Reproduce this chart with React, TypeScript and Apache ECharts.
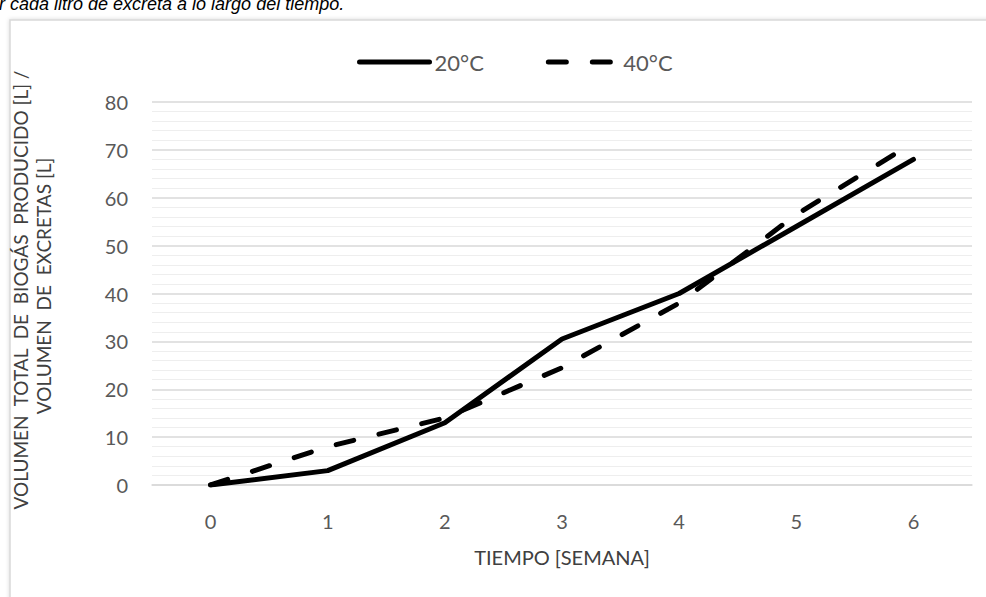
import React, { useEffect, useRef } from "react";
import * as echarts from "echarts";

const weeks = ["0", "1", "2", "3", "4", "5", "6"];
const serie20 = [0, 3, 13, 30.5, 40, 54, 68];
const serie40 = [0, 8, 14, 24.5, 38, 56.5, 71.5];
const seriesNames = ["20°C", "40°C"];
const yAxisTitle1 = "VOLUMEN  TOTAL  DE  BIOGÁS  PRODUCIDO [L] /";
const yAxisTitle2 = "VOLUMEN  DE  EXCRETAS [L]";
const xAxisTitle = "TIEMPO [SEMANA]";
const captionText = "r cada litro de excreta a lo largo del tiempo.";

const FONT = "Lato, 'Open Sans', sans-serif";
const GREY = "#595959";

export default function App() {
  const ref = useRef<HTMLDivElement>(null);
  useEffect(() => {
    if (!ref.current) return;
    const chart = echarts.init(ref.current, null, { renderer: "svg" });
    chart.setOption({
      animation: false,
      backgroundColor: "#ffffff",
      textStyle: { fontFamily: FONT },
      grid: { left: 152, right: 14, top: 102, bottom: 112 },
      legend: {
        left: 352,
        top: 46,
        itemWidth: 70,
        itemHeight: 26,
        itemGap: 62,
        itemStyle: { opacity: 0, color: "rgba(0,0,0,0)", borderWidth: 0 },
        lineStyle: { width: 5, cap: "round" },
        textStyle: { fontFamily: FONT, fontSize: 22, color: GREY },
        data: seriesNames,
      },
      xAxis: {
        type: "category",
        data: weeks,
        boundaryGap: true,
        axisLine: { show: true, lineStyle: { color: "#d9d9d9", width: 1.5 } },
        axisTick: { show: false },
        axisLabel: { fontFamily: FONT, fontSize: 20, color: GREY, margin: 26 },
        name: xAxisTitle,
        nameLocation: "middle",
        nameGap: 62,
        nameTextStyle: { fontFamily: FONT, fontSize: 20, color: "#404040" },
      },
      yAxis: {
        type: "value",
        min: 0,
        max: 80,
        interval: 10,
        axisLine: { show: false },
        axisTick: { show: false },
        axisLabel: { fontFamily: FONT, fontSize: 20, color: GREY, margin: 24 },
        splitLine: { show: true, lineStyle: { color: "#d9d9d9", width: 1.5 } },
        minorTick: { show: false, splitNumber: 5 },
        minorSplitLine: { show: true, lineStyle: { color: "#eeeeee", width: 1 } },
      },
      series: [
        {
          name: seriesNames[0],
          type: "line",
          data: serie20,
          symbol: "none",
          lineStyle: { color: "#000000", width: 5, cap: "round", join: "round" },
          itemStyle: { color: "#000000" },
          z: 3,
        },
        {
          name: seriesNames[1],
          type: "line",
          data: serie40,
          symbol: "none",
          lineStyle: {
            color: "#000000",
            width: 5,
            type: [18, 26],
            cap: "round",
            join: "round",
          },
          itemStyle: { color: "#000000" },
          z: 2,
        },
      ],
      graphic: [
        {
          type: "rect",
          z: -10,
          shape: { x: 10, y: 20, width: 1000, height: 600 },
          style: {
            fill: "#ffffff",
            stroke: "#d9d9d9",
            lineWidth: 1.5,
            shadowBlur: 4,
            shadowColor: "rgba(0,0,0,0.15)",
          },
        },
        {
          type: "text",
          x: -1,
          y: 4,
          style: {
            text: captionText,
            font: "italic 18px 'Liberation Sans', Arial, sans-serif",
            fill: "#000000",
            verticalAlign: "middle",
            align: "left",
          },
        },
        {
          type: "text",
          x: 20,
          y: 290,
          rotation: Math.PI / 2,
          style: {
            text: yAxisTitle1,
            font: "19px " + FONT,
            fill: "#404040",
            align: "center",
            verticalAlign: "middle",
          },
        },
        {
          type: "text",
          x: 43,
          y: 286,
          rotation: Math.PI / 2,
          style: {
            text: yAxisTitle2,
            font: "19px " + FONT,
            fill: "#404040",
            align: "center",
            verticalAlign: "middle",
          },
        },
      ],
    });
    return () => chart.dispose();
  }, []);
  return (
    <div
      ref={ref}
      style={{ position: "fixed", left: 0, top: 0, width: 986, height: 597 }}
    />
  );
}
